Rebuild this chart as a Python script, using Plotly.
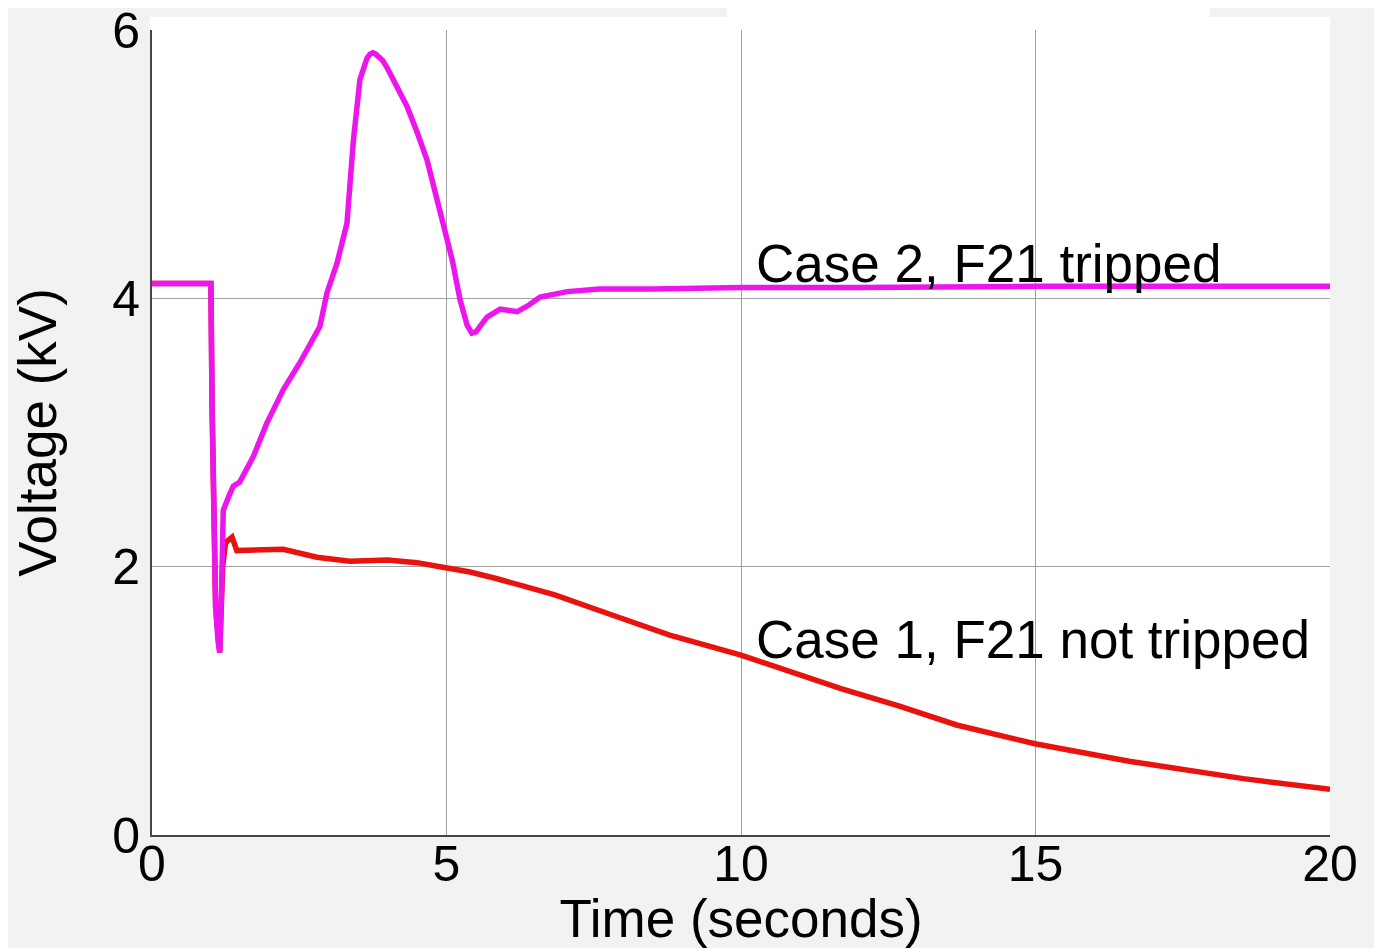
import plotly.graph_objects as go

# Case 2 (F21 tripped) - magenta
t_case2 = [0, 1.0, 1.02, 1.08, 1.12, 1.15, 1.18, 1.21, 1.30, 1.38, 1.49, 1.72, 1.95, 2.23, 2.51,
           2.74, 2.85, 2.97, 3.14, 3.31, 3.42, 3.53, 3.60, 3.65, 3.70, 3.75, 3.80, 3.85, 3.92, 3.99, 4.15, 4.33,
           4.50, 4.67, 4.94, 5.10, 5.23, 5.35, 5.43, 5.50, 5.60, 5.69, 5.91, 6.2, 6.4, 6.59,
           7.05, 7.6, 8.5, 10, 12, 15, 20]
v_case2 = [4.11, 4.11, 3.2, 1.7, 1.45, 1.36, 1.8, 2.42, 2.52, 2.6, 2.63, 2.82, 3.07, 3.32, 3.52,
           3.69, 3.79, 4.04, 4.26, 4.56, 5.18, 5.63, 5.74, 5.79, 5.82, 5.83, 5.82, 5.80, 5.77, 5.72, 5.59, 5.43,
           5.24, 5.03, 4.56, 4.28, 3.99, 3.80, 3.74, 3.75, 3.81, 3.86, 3.92, 3.90, 3.95, 4.01,
           4.05, 4.07, 4.07, 4.08, 4.08, 4.09, 4.09]

# Case 1 (F21 not tripped) - red
t_case1 = [0, 1.0, 1.02, 1.08, 1.15, 1.20, 1.25, 1.36, 1.44, 1.6, 2.23, 2.8, 3.36, 4.0, 4.5, 4.89,
           5.4, 5.86, 6.84, 7.81, 8.79, 10.0, 10.74, 11.71, 12.69, 13.66, 14.99, 16.59, 18.53, 20.0]
v_case1 = [4.11, 4.11, 3.2, 1.7, 1.36, 2.0, 2.18, 2.22, 2.12, 2.12, 2.13, 2.07, 2.04, 2.05, 2.03, 2.0,
           1.96, 1.91, 1.79, 1.64, 1.49, 1.34, 1.23, 1.09, 0.96, 0.82, 0.68, 0.55, 0.42, 0.34]

x_ticks = [0, 5, 10, 15, 20]
y_ticks = [0, 2, 4, 6]
labels = ["Case 2, F21 tripped", "Case 1, F21 not tripped"]
label_x = [10.22, 10.22]
label_y = [4.26, 1.46]

fig = go.Figure()
fig.add_trace(go.Scatter(x=t_case1, y=v_case1, mode="lines",
                         line=dict(color="#e8120f", width=5.5), showlegend=False))
fig.add_trace(go.Scatter(x=t_case2, y=v_case2, mode="lines",
                         line=dict(color="#ec15ec", width=5.5), showlegend=False))

for txt, lx, ly in zip(labels, label_x, label_y):
    fig.add_annotation(x=lx, y=ly, text=txt, showarrow=False, xanchor="left", yanchor="middle",
                       font=dict(family="Liberation Sans, Arial", size=53, color="black"))

# white strips above plot area (as in the reference image)
fig.add_shape(type="rect", xref="paper", yref="paper", x0=-0.002, x1=1.0, y0=1.0, y1=1.016,
              fillcolor="white", line_width=0, layer="below")
fig.add_shape(type="rect", xref="paper", yref="paper", x0=0.488, x1=0.898, y0=1.0, y1=1.031,
              fillcolor="white", line_width=0, layer="below")

fig.update_layout(
    width=1374, height=940,
    margin=dict(l=144, r=52, t=22, b=113, autoexpand=False),
    paper_bgcolor="#f2f2f2", plot_bgcolor="white",
    font=dict(family="Liberation Sans, Arial", size=52, color="black"),
    xaxis=dict(range=[0, 20], tickvals=x_ticks, ticks="", showgrid=True, gridcolor="#a0a0a0",
               gridwidth=1, showline=True, linecolor="#444", linewidth=2, zeroline=False,
               automargin=False, ticklabeloverflow="allow",
               title=dict(text="Time (seconds)", standoff=0, font=dict(size=53)),
               tickfont=dict(size=50), ticklabelstandoff=-16),
    yaxis=dict(range=[0, 6], tickvals=y_ticks, ticks="", showgrid=True, gridcolor="#a0a0a0",
               gridwidth=1, showline=True, linecolor="#444", linewidth=2, zeroline=False,
               automargin=False, ticklabeloverflow="allow",
               title=dict(text="Voltage (kV)", standoff=45, font=dict(size=53)),
               tickfont=dict(size=50), ticklabelstandoff=0),
)

fig.write_html("out.html")
